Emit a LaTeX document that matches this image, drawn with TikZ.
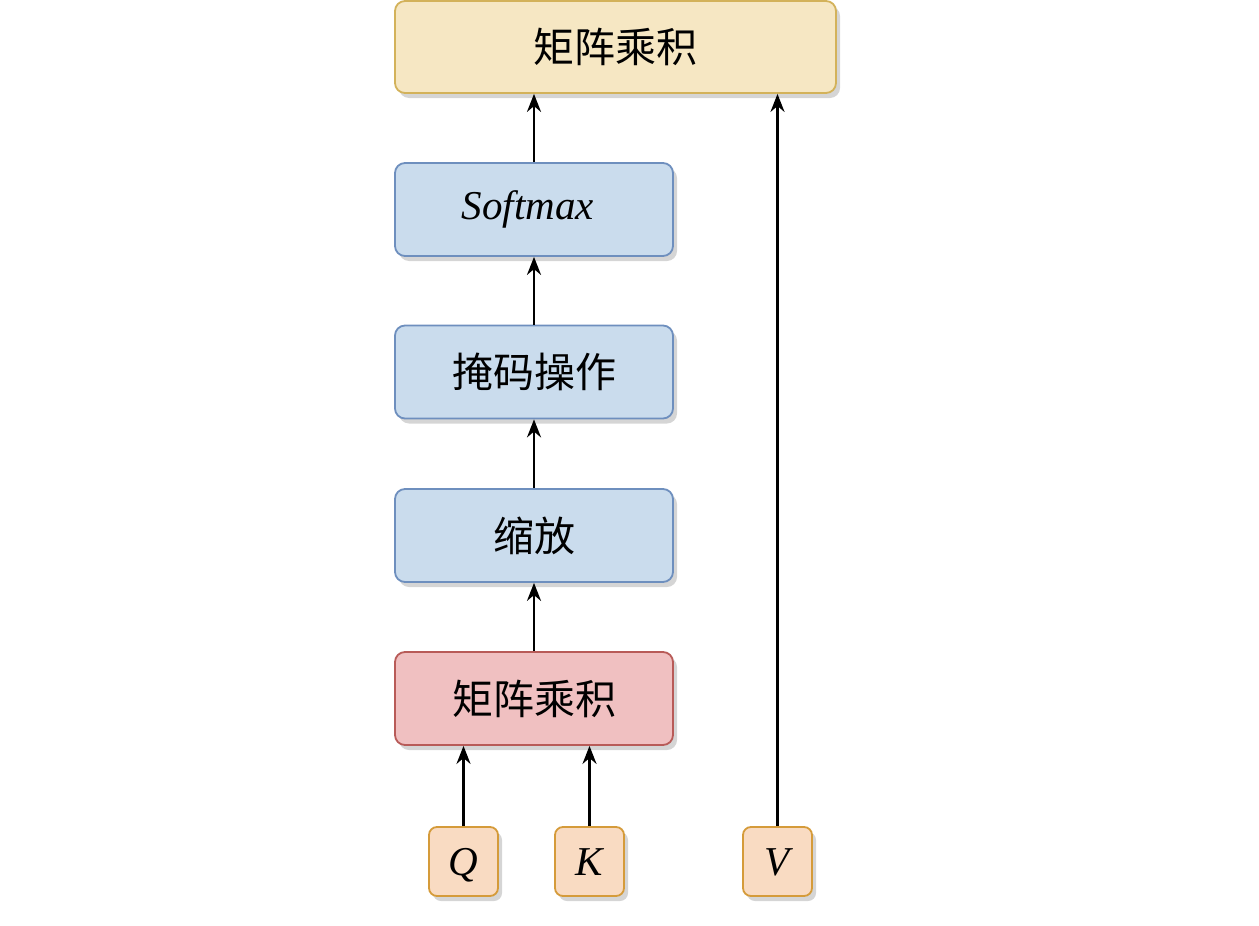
\documentclass[tikz,border=0pt]{standalone}
\usepackage{fontspec}
\setmainfont{Liberation Serif}
\newfontfamily\cjk{Noto Sans CJK SC}
\usetikzlibrary{arrows.meta,shadows}
\definecolor{yfill}{HTML}{F6E7C3}
\definecolor{ydraw}{HTML}{D3B25A}
\definecolor{bfill}{HTML}{CADCED}
\definecolor{bdraw}{HTML}{6E8FBE}
\definecolor{rfill}{HTML}{F0C0C1}
\definecolor{rdraw}{HTML}{B85B58}
\definecolor{ofill}{HTML}{F9DBC2}
\definecolor{odraw}{HTML}{D59B3A}
\begin{document}
\begin{tikzpicture}[x=1pt, y=-1pt,
	every node/.style={rounded corners=10pt, line width=1.8pt, align=center,
		font=\fontsize{41}{49}\selectfont, inner sep=0pt,
		drop shadow={shadow xshift=4pt, shadow yshift=-5pt, opacity=0.3, fill=black!55}},
	blk/.style={minimum width=278pt, minimum height=93pt, fill=bfill, draw=bdraw},
	inp/.style={minimum width=69pt, minimum height=69pt, fill=ofill, draw=odraw,
		rounded corners=8pt, text height=30pt, text depth=3pt},
	flow/.style={line width=2.4pt, -{Stealth[length=18pt,width=14pt]}} ]
	\useasboundingbox (0,0) rectangle (1259,926);
	\node[minimum width=441pt, minimum height=92pt, fill=yfill, draw=ydraw] (out) at (615.5,47) {\cjk 矩阵乘积};
	\node[blk] (soft) at (534,209.5) {\itshape Softmax\hspace{12pt}};
	\node[blk] (mask) at (534,372) {\cjk 掩码操作};
	\node[blk] (scale) at (534,535.5) {\cjk 缩放};
	\node[blk, fill=rfill, draw=rdraw] (mul) at (534,698.5) {\cjk 矩阵乘积};
	\node[inp] (q) at (463.5,861.5) {\itshape Q};
	\node[inp] (k) at (589.5,861.5) {\itshape K};
	\node[inp] (v) at (777.5,861.5) {\itshape V};
	\draw[flow] (q) -- (q |- mul.south);
	\draw[flow] (k) -- (k |- mul.south);
	\draw[flow] (mul) -- (scale);
	\draw[flow] (scale) -- (mask);
	\draw[flow] (mask) -- (soft);
	\draw[flow] (soft) -- (soft |- out.south);
	\draw[flow] (v) -- (v |- out.south);
\end{tikzpicture}
\end{document}
